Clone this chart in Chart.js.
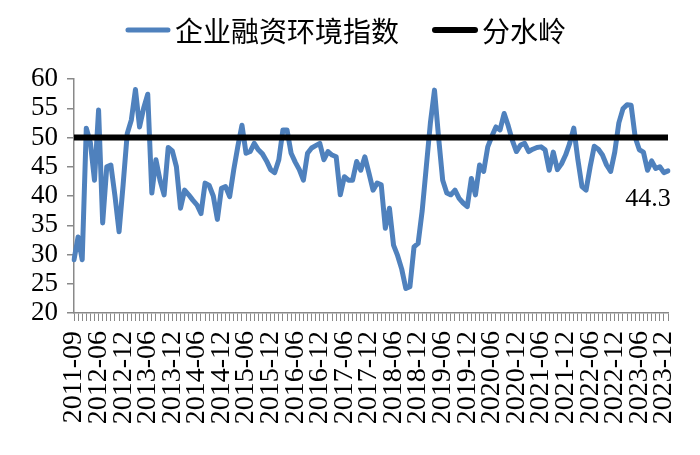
<!DOCTYPE html>
<html>
<head>
<meta charset="utf-8">
<script src="https://cdn.jsdelivr.net/npm/chart.js@4/dist/chart.umd.min.js"></script>
<style>
  html, body { margin: 0; padding: 0; background: #ffffff; }
  #wrap { width: 700px; height: 455px; }
</style>
</head>
<body>
<div id="wrap"><canvas id="c" width="700" height="455"></canvas></div>
<script>
// ---- data ----
const categories = [
  "2011-09","2011-12","2012-02","2012-03","2012-04","2012-05",
  "2012-06","2012-07","2012-08","2012-09","2012-10","2012-11","2012-12",
  "2013-01","2013-02","2013-03","2013-04","2013-05","2013-06","2013-07","2013-08","2013-09","2013-10","2013-11","2013-12",
  "2014-01","2014-02","2014-03","2014-04","2014-05","2014-06","2014-07","2014-08","2014-09","2014-10","2014-11","2014-12",
  "2015-01","2015-02","2015-03","2015-04","2015-05","2015-06","2015-07","2015-08","2015-09","2015-10","2015-11","2015-12",
  "2016-01","2016-02","2016-03","2016-04","2016-05","2016-06","2016-07","2016-08","2016-09","2016-10","2016-11","2016-12",
  "2017-01","2017-02","2017-03","2017-04","2017-05","2017-06","2017-07","2017-08","2017-09","2017-10","2017-11","2017-12",
  "2018-01","2018-02","2018-03","2018-04","2018-05","2018-06","2018-07","2018-08","2018-09","2018-10","2018-11","2018-12",
  "2019-01","2019-02","2019-03","2019-04","2019-05","2019-06","2019-07","2019-08","2019-09","2019-10","2019-11","2019-12",
  "2020-01","2020-02","2020-03","2020-04","2020-05","2020-06","2020-07","2020-08","2020-09","2020-10","2020-11","2020-12",
  "2021-01","2021-02","2021-03","2021-04","2021-05","2021-06","2021-07","2021-08","2021-09","2021-10","2021-11","2021-12",
  "2022-01","2022-02","2022-03","2022-04","2022-05","2022-06","2022-07","2022-08","2022-09","2022-10","2022-11","2022-12",
  "2023-01","2023-02","2023-03","2023-04","2023-05","2023-06","2023-07","2023-08","2023-09","2023-10","2023-11","2023-12",
  "2024-01"
];

const financingIndex = [
  29.1, 33.0, 29.1, 51.6, 49.1, 42.7, 54.7, 35.4, 45.0, 45.3,
  40.0, 33.9, 42.0, 50.7, 53.0, 58.2, 51.8, 55.0, 57.4, 40.5,
  46.2, 42.7, 40.2, 48.3, 47.7, 45.0, 37.9, 41.0, 40.2, 39.3,
  38.5, 37.0, 42.2, 41.8, 40.0, 36.0, 41.3, 41.6, 39.9, 44.5,
  48.5, 52.1, 47.3, 47.6, 49.0, 47.9, 47.2, 46.0, 44.5, 44.0,
  46.2, 51.3, 51.3, 47.3, 45.8, 44.5, 42.7, 47.3, 48.2, 48.6,
  49.0, 46.2, 47.6, 47.0, 46.7, 40.2, 43.3, 42.7, 42.7, 45.9,
  44.4, 46.7, 43.9, 41.0, 42.2, 41.9, 34.5, 37.9, 31.6, 29.8,
  27.5, 24.2, 24.5, 31.3, 31.9, 37.5, 45.0, 52.5, 58.1, 50.0,
  42.7, 40.5, 40.2, 41.0, 39.6, 38.8, 38.2, 43.0, 40.2, 45.3,
  44.2, 48.4, 50.2, 51.8, 51.3, 54.1, 52.0, 49.5, 47.6, 48.7,
  49.0, 47.6, 48.0, 48.3, 48.4, 47.9, 44.4, 47.5, 44.5, 45.5,
  47.0, 49.0, 51.6, 46.2, 41.6, 41.0, 45.0, 48.5, 48.0, 47.0,
  45.3, 44.2, 47.5, 52.5, 54.9, 55.6, 55.5, 50.0, 47.9, 47.5,
  44.4, 46.0, 44.7, 45.0, 44.0, 44.3
];

const watershedValue = 50;
const seriesNames = ["企业融资环境指数", "分水岭"];
const lastValueLabel = "44.3";
const yTicks = { min: 20, max: 60, step: 5 };
const labelEvery = 6;

// ---- styles ----
const BLUE = "#4F81BD";
const AXIS_GRAY = "#898989";
const SERIF = "'Liberation Serif', 'Times New Roman', serif";
const CJK = "'Noto Sans CJK SC', 'Noto Sans', sans-serif";

const legendPlugin = {
  id: "customLegend",
  afterDraw(chart) {
    const ctx = chart.ctx;
    const ds = chart.data.datasets;
    // legend order: index line first, then watershed
    const items = [ds[1], ds[0]];
    const lineLen = 44, gap = 5, itemGap = 34, y = 30;
    ctx.save();
    ctx.font = "28px " + CJK;
    const widths = items.map(d => ctx.measureText(d.label).width);
    let total = 0;
    items.forEach((d, i) => { total += lineLen + gap + widths[i]; });
    total += itemGap * (items.length - 1);
    let x = 346 - total / 2;
    items.forEach((d, i) => {
      ctx.strokeStyle = d.borderColor;
      ctx.lineWidth = d.borderWidth;
      ctx.lineCap = "round";
      ctx.beginPath();
      ctx.moveTo(x + 2, y);
      ctx.lineTo(x + lineLen - 2, y);
      ctx.stroke();
      x += lineLen + gap;
      ctx.fillStyle = "#000";
      ctx.textAlign = "left";
      ctx.textBaseline = "middle";
      ctx.fillText(d.label, x, y + 1);
      x += widths[i] + itemGap;
    });
    ctx.restore();
  }
};

const lastLabelPlugin = {
  id: "lastLabel",
  afterDatasetsDraw(chart) {
    const meta = chart.getDatasetMeta(1);
    const pts = meta.data;
    const p = pts[pts.length - 1];
    const ctx = chart.ctx;
    ctx.save();
    ctx.font = "26px " + SERIF;
    ctx.fillStyle = "#000";
    ctx.textAlign = "center";
    ctx.textBaseline = "middle";
    ctx.fillText(lastValueLabel, p.x - 20, p.y + 28);
    ctx.restore();
  }
};

new Chart(document.getElementById("c"), {
  type: "line",
  data: {
    labels: categories,
    datasets: [
      {
        label: seriesNames[1],
        data: [
          { x: categories[0], y: watershedValue },
          { x: categories[categories.length - 1], y: watershedValue }
        ],
        borderColor: "#000000",
        backgroundColor: "#000000",
        borderWidth: 6,
        pointRadius: 0,
        tension: 0,
        order: 0
      },
      {
        label: seriesNames[0],
        data: financingIndex,
        borderColor: BLUE,
        backgroundColor: BLUE,
        borderWidth: 5,
        pointRadius: 0,
        tension: 0,
        borderJoinStyle: "round",
        borderCapStyle: "round",
        order: 1
      }
    ]
  },
  options: {
    responsive: false,
    animation: false,
    events: [],
    layout: { padding: { top: 79, right: 32, left: 0, bottom: 0 } },
    plugins: {
      legend: { display: false },
      tooltip: { enabled: false }
    },
    scales: {
      x: {
        type: "category",
        offset: false,
        grid: {
          display: true,
          drawOnChartArea: false,
          drawTicks: true,
          tickLength: 8,
          color: AXIS_GRAY,
          lineWidth: 1
        },
        border: { display: true, color: AXIS_GRAY, width: 1.5 },
        ticks: {
          autoSkip: false,
          minRotation: 90,
          maxRotation: 90,
          padding: 10,
          color: "#000",
          font: { family: SERIF, size: 28 },
          callback: function (value, index) {
            return index % labelEvery === 0 ? this.getLabelForValue(value) : "";
          }
        },
        afterFit(scale) {
          scale.height = 142;
          scale.paddingLeft = 0;
          scale.paddingRight = 0;
        }
      },
      y: {
        min: yTicks.min,
        max: yTicks.max,
        grid: {
          display: true,
          drawOnChartArea: false,
          drawTicks: true,
          tickLength: 7,
          color: AXIS_GRAY,
          lineWidth: 1.5
        },
        border: { display: true, color: AXIS_GRAY, width: 1.5 },
        ticks: {
          stepSize: yTicks.step,
          autoSkip: false,
          padding: 9,
          color: "#000",
          font: { family: SERIF, size: 27, lineHeight: 0.8 }
        },
        afterFit(scale) {
          scale.width = 74;
          scale.paddingTop = 0;
          scale.paddingBottom = 0;
        }
      }
    }
  },
  plugins: [legendPlugin, lastLabelPlugin]
});
</script>
</body>
</html>
